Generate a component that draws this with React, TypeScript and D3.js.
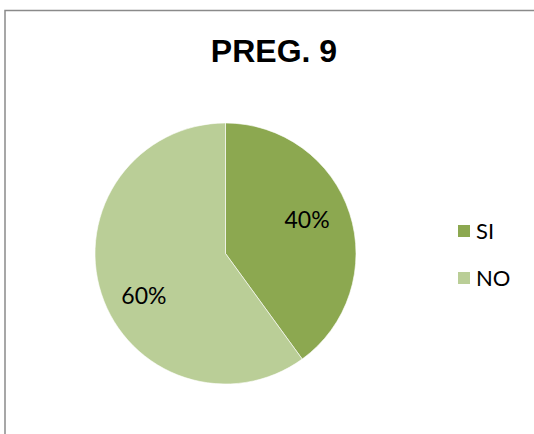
import React from "react";
import * as d3 from "d3";

const title = "PREG. 9";
const categories = ["SI", "NO"];
const values = [40, 60];
const colors = ["#8CA850", "#BACE97"];

export default function App() {
  const W = 534, H = 434;
  const cx = 225.5, cy = 253.5, r = 130.5;
  const pie = d3.pie<number>().sort(null).startAngle(0).endAngle(2 * Math.PI);
  const arcs = pie(values);
  const arc = d3.arc<d3.PieArcDatum<number>>().innerRadius(0).outerRadius(r);
  const total = d3.sum(values);
  const labelPos = (a: d3.PieArcDatum<number>) => {
    const ang = (a.startAngle + a.endAngle) / 2 - (7 * Math.PI) / 180;
    const d = r * 0.69;
    return [Math.sin(ang) * d, -Math.cos(ang) * d + 4];
  };
  return (
    <svg width={W} height={H} style={{ position: "absolute", left: 0, top: 0 }}>
      <rect x={0} y={0} width={W} height={H} fill="#fff" />
      <path d={`M5,${H} V10.5 H${W}`} fill="none" stroke="#8a8a8a" strokeWidth={1.5} />
      <text x={274} y={62} textAnchor="middle" fontFamily="Liberation Sans, Arial" fontWeight="bold" fontSize={32} fill="#000">{title}</text>
      <g transform={`translate(${cx},${cy})`}>
        {arcs.map((a, i) => (
          <path key={i} d={arc(a) || ""} fill={colors[i]} stroke="#fff" strokeWidth={0.6} />
        ))}
        {arcs.map((a, i) => {
          const [x, y] = labelPos(a);
          return (
            <text key={"l" + i} x={x} y={y} dy="0.35em" textAnchor="middle" fontFamily="Lato, Open Sans, sans-serif" fontSize={23} fill="#000">
              {d3.format(".0%")(a.data / total)}
            </text>
          );
        })}
      </g>
      {categories.map((c, i) => (
        <g key={c} transform={`translate(458,${225 + i * 47})`}>
          <rect x={0} y={0} width={12} height={12} fill={colors[i]} />
          <text x={18} y={6} dy="0.36em" fontFamily="Lato, Open Sans, sans-serif" fontSize={22} fill="#000">{c}</text>
        </g>
      ))}
    </svg>
  );
}
